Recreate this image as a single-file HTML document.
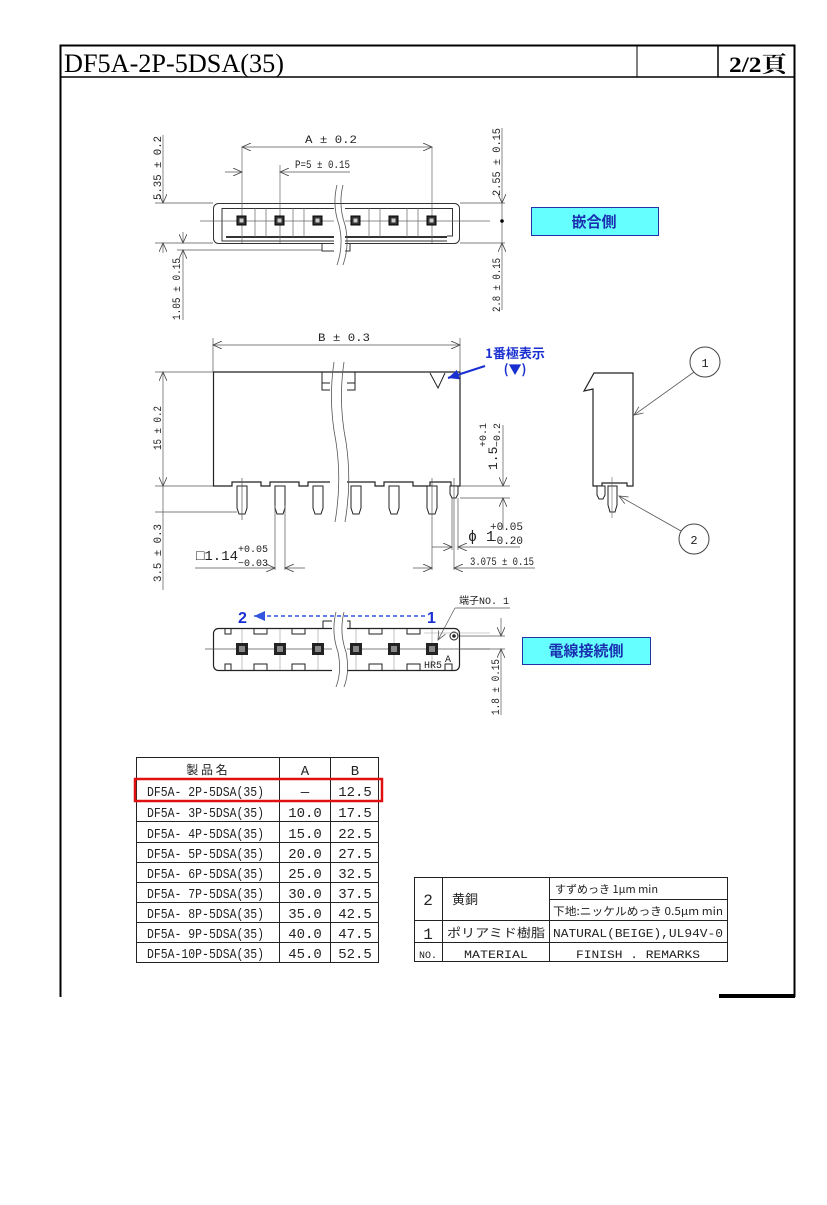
<!DOCTYPE html>
<html><head><meta charset="utf-8"><style>
body{margin:0;background:#fff;}
svg{display:block;}
text{font-family:"Liberation Sans","Noto Sans CJK JP",sans-serif;}
.t text, text.t{font-family:"Liberation Mono","Noto Sans CJK JP",monospace;fill:#222;}
.t text.j, text.j{font-family:"Noto Sans CJK JP",sans-serif;}
text.serif{font-family:"Liberation Serif","Noto Serif CJK SC",serif;}
</style></head><body>
<svg width="827" height="1205" viewBox="0 0 827 1205" xmlns="http://www.w3.org/2000/svg">
<defs>
<marker id="ar" markerWidth="10" markerHeight="8" refX="9" refY="4" orient="auto-start-reverse" markerUnits="userSpaceOnUse"><path d="M0,0 L9,4 L0,8" fill="none" stroke="#444" stroke-width="0.8"/></marker>
<marker id="ba" markerWidth="12" markerHeight="10" refX="11" refY="5" orient="auto" markerUnits="userSpaceOnUse"><path d="M0,0 L11,5 L0,10 Z" fill="#1a2fd0"/></marker>
<marker id="bl" markerWidth="12" markerHeight="10" refX="11" refY="5" orient="auto" markerUnits="userSpaceOnUse"><path d="M0,0 L11,5 L0,10 Z" fill="#3355dd"/></marker>
<marker id="la" markerWidth="10" markerHeight="8" refX="9" refY="4" orient="auto" markerUnits="userSpaceOnUse"><path d="M0,0 L9,4 L0,8" fill="none" stroke="#555" stroke-width="0.8"/></marker>
</defs>
<!-- frame -->
<g stroke="#000" fill="none">
<path d="M60.5,997 V45.5 H794.5 V997" stroke-width="2"/>
<line x1="60" y1="77" x2="795" y2="77" stroke-width="1.5"/>
<line x1="637" y1="45" x2="637" y2="77" stroke-width="1"/>
<line x1="718" y1="45" x2="718" y2="77" stroke-width="1.5"/>
</g>
<rect x="719" y="994" width="76" height="4" fill="#000"/>
<text class="serif" x="64" y="72" font-size="26" textLength="220" lengthAdjust="spacingAndGlyphs">DF5A-2P-5DSA(35)</text>
<text class="serif" x="729" y="72" font-size="22" font-weight="bold" textLength="58" lengthAdjust="spacingAndGlyphs">2/2頁</text>

<!-- TOP VIEW -->
<g stroke="#333" fill="none" stroke-width="1">
<rect x="213.5" y="203.5" width="246" height="40" rx="5"/>
<path d="M222,238 V208.5 H452.5 V236 H447"/>
<path d="M222,238 V241 H447"/>
<line x1="226" y1="237" x2="447" y2="237" stroke-width="2"/>
<path d="M322,243.5 V251 H350 V243.5"/>
<line x1="200" y1="221" x2="490" y2="221" stroke="#666" stroke-width="0.7"/>
<g stroke="#666" stroke-width="0.7">
<line x1="255" y1="208" x2="255" y2="237"/><line x1="266" y1="208" x2="266" y2="237"/>
<line x1="293" y1="208" x2="293" y2="237"/><line x1="304" y1="208" x2="304" y2="237"/>
<line x1="369" y1="208" x2="369" y2="237"/><line x1="380" y1="208" x2="380" y2="237"/>
<line x1="407" y1="208" x2="407" y2="237"/><line x1="418" y1="208" x2="418" y2="237"/>
<line x1="242" y1="147" x2="242" y2="243"/><line x1="280" y1="165" x2="280" y2="243"/>
<line x1="432" y1="147" x2="432" y2="243"/>
</g>
</g>
<rect x="334" y="204" width="11" height="60" fill="#fff"/>
<path d="M337,185 q-5,20 2,40 q5,20 -2,40 M343,185 q-5,20 2,40 q5,20 -2,40" stroke="#555" stroke-width="0.8" fill="none"/>
<g fill="#333" stroke="#000">
<rect x="237" y="216" width="9" height="9"/><rect x="275" y="216" width="9" height="9"/>
<rect x="313" y="216" width="9" height="9"/><rect x="351" y="216" width="9" height="9"/>
<rect x="389" y="216" width="9" height="9"/><rect x="427" y="216" width="9" height="9"/>
</g>
<g fill="#ccc"><rect x="239.5" y="218.5" width="4" height="4"/><rect x="277.5" y="218.5" width="4" height="4"/><rect x="315.5" y="218.5" width="4" height="4"/><rect x="353.5" y="218.5" width="4" height="4"/><rect x="391.5" y="218.5" width="4" height="4"/><rect x="429.5" y="218.5" width="4" height="4"/></g>
<g stroke="#555" stroke-width="0.7" fill="none">
<line x1="242" y1="147" x2="432" y2="147" marker-start="url(#ar)" marker-end="url(#ar)"/>
<line x1="225" y1="172" x2="242" y2="172" marker-end="url(#ar)"/>
<line x1="280" y1="172" x2="350" y2="172" marker-start="url(#ar)"/>
<line x1="155" y1="203" x2="213" y2="203"/><line x1="155" y1="243" x2="213" y2="243"/>
<line x1="163" y1="135" x2="163" y2="203" marker-end="url(#ar)"/>
<line x1="163" y1="243" x2="163" y2="253" marker-start="url(#ar)"/>
<line x1="177" y1="250" x2="322" y2="250"/>
<line x1="183" y1="232" x2="183" y2="243" marker-end="url(#ar)"/>
<line x1="183" y1="250" x2="183" y2="320" marker-start="url(#ar)"/>
<line x1="460" y1="203" x2="505" y2="203"/><line x1="460" y1="243" x2="505" y2="243"/>
<line x1="502" y1="128" x2="502" y2="203" marker-end="url(#ar)"/>
<line x1="502" y1="243" x2="502" y2="310" marker-start="url(#ar)"/>
<line x1="502" y1="203" x2="502" y2="243"/>
</g>
<circle cx="502" cy="221" r="1.8" fill="#000"/>
<g class="t" font-size="11">
<text x="305" y="143" textLength="52" lengthAdjust="spacingAndGlyphs">A ± 0.2</text>
<text x="295" y="168" textLength="55" lengthAdjust="spacingAndGlyphs">P=5 ± 0.15</text>
<text transform="translate(161,200) rotate(-90)" textLength="64" lengthAdjust="spacingAndGlyphs">5.35 ± 0.2</text>
<text transform="translate(180,320) rotate(-90)" textLength="62" lengthAdjust="spacingAndGlyphs">1.05 ± 0.15</text>
<text transform="translate(500,196) rotate(-90)" textLength="68" lengthAdjust="spacingAndGlyphs">2.55 ± 0.15</text>
<text transform="translate(500,312) rotate(-90)" textLength="54" lengthAdjust="spacingAndGlyphs">2.8 ± 0.15</text>
</g>
<rect x="531.5" y="207.5" width="127" height="28" fill="#66ffff" stroke="#2233aa"/>
<text class="j" x="594" y="227" text-anchor="middle" font-size="15" font-weight="bold" fill="#1a2fb0">嵌合側</text>

<!-- FRONT VIEW -->
<g stroke="#222" fill="none" stroke-width="1.2">
<path d="M213.5,372 H460 V486 H451 V482 H430 V486 H413 V482 H384 V486 H375 V482 H346 V486 H337 V482 H308 V486 H299 V482 H270 V486 H261 V482 H232 V486 H213.5 Z"/>
<path d="M322,372 V390 H355 V372" stroke-width="1"/>
<line x1="322" y1="383" x2="355" y2="383" stroke-width="1"/>
<path d="M430,373 L438,388 L445,373" stroke-width="1"/>
</g>
<rect x="330" y="373" width="17" height="125" fill="#fff"/>
<path d="M334,362 q-6,40 2,80 q6,40 -1,80 M344,362 q-6,40 2,80 q6,40 -1,80" stroke="#555" stroke-width="0.8" fill="none"/>
<g stroke="#222" fill="#fff" stroke-width="1">
<path d="M237,486 V508 L239,514 H245 L247,508 V486 Z"/>
<path d="M275,486 V508 L277,514 H283 L285,508 V486 Z"/>
<path d="M313,486 V508 L315,514 H321 L323,508 V486 Z"/>
<path d="M351,486 V508 L353,514 H359 L361,508 V486 Z"/>
<path d="M389,486 V508 L391,514 H397 L399,508 V486 Z"/>
<path d="M427,486 V508 L429,514 H435 L437,508 V486 Z"/>
<path d="M450,486 V494 L452,498 H456 L458,494 V486 Z"/>
</g>
<g stroke="#555" stroke-width="0.7" fill="none">
<line x1="213" y1="338" x2="213" y2="372"/><line x1="460" y1="338" x2="460" y2="372"/>
<line x1="213" y1="345" x2="460" y2="345" marker-start="url(#ar)" marker-end="url(#ar)"/>
<line x1="155" y1="372" x2="213" y2="372"/><line x1="155" y1="486" x2="213" y2="486"/>
<line x1="163" y1="372" x2="163" y2="486" marker-start="url(#ar)" marker-end="url(#ar)"/>
<line x1="163" y1="486" x2="163" y2="590"/>
<line x1="155" y1="512" x2="237" y2="512"/>
<line x1="460" y1="486" x2="510" y2="486"/><line x1="460" y1="498" x2="510" y2="498"/>
<line x1="503" y1="425" x2="503" y2="486" marker-end="url(#ar)"/>
<line x1="503" y1="498" x2="503" y2="530" marker-start="url(#ar)"/>
<line x1="242" y1="478" x2="242" y2="520"/><line x1="432" y1="478" x2="432" y2="570"/>
<line x1="454" y1="478" x2="454" y2="570"/><line x1="452" y1="498" x2="452" y2="550"/><line x1="458" y1="498" x2="458" y2="550"/>
<line x1="275" y1="505" x2="275" y2="570"/><line x1="285" y1="505" x2="285" y2="570"/>
<line x1="195" y1="568" x2="275" y2="568" marker-end="url(#ar)"/>
<line x1="285" y1="568" x2="305" y2="568" marker-start="url(#ar)"/>
<line x1="432" y1="547" x2="452" y2="547" marker-end="url(#ar)"/>
<line x1="458" y1="547" x2="520" y2="547" marker-start="url(#ar)"/>
<line x1="413" y1="568" x2="432" y2="568" marker-end="url(#ar)"/>
<line x1="454" y1="568" x2="535" y2="568" marker-start="url(#ar)"/>
</g>
<g class="t" font-size="11">
<text x="318" y="341" textLength="52" lengthAdjust="spacingAndGlyphs">B ± 0.3</text>
<text transform="translate(161,450) rotate(-90)" textLength="44" lengthAdjust="spacingAndGlyphs">15 ± 0.2</text>
<text transform="translate(161,582) rotate(-90)" textLength="58" lengthAdjust="spacingAndGlyphs">3.5 ± 0.3</text>
<text transform="translate(497,470) rotate(-90)" font-size="13">1.5</text>
<text transform="translate(486,447) rotate(-90)" font-size="10">+0.1</text>
<text transform="translate(500,447) rotate(-90)" font-size="10">−0.2</text>
<text x="468" y="541" font-size="15">ϕ 1</text>
<text x="490" y="530" font-size="11">+0.05</text>
<text x="490" y="544" font-size="11">−0.20</text>
<text x="470" y="565" textLength="64" lengthAdjust="spacingAndGlyphs">3.075 ± 0.15</text>
<text x="196" y="560" font-size="14">□1.14</text>
<text x="238" y="552" font-size="10">+0.05</text>
<text x="238" y="566" font-size="10">−0.03</text>
</g>
<text class="j" x="515" y="358" text-anchor="middle" font-size="13" font-weight="bold" fill="#1a2fd0">1番極表示</text>
<text class="j" x="515" y="374" text-anchor="middle" font-size="13" font-weight="bold" fill="#1a2fd0">(▼)</text>
<line x1="485" y1="366" x2="448" y2="378" stroke="#1a2fd0" stroke-width="2.2" marker-end="url(#ba)"/>

<!-- SIDE VIEW -->
<g stroke="#222" fill="none" stroke-width="1.2">
<path d="M593,486 V389 L584,391 L594,373 H633 V486 H627 V483 H602 V486 Z"/>
</g>
<g stroke="#222" fill="#fff" stroke-width="1">
<path d="M597,486 V495 L599,499 H603 L605,495 V486 Z"/>
<path d="M608,486 V505 L610,512 H615 L617,505 V486 Z"/>
</g>
<line x1="612" y1="477" x2="612" y2="518" stroke="#666" stroke-width="0.6"/>
<circle cx="705" cy="362" r="15" fill="none" stroke="#444"/>
<text x="705" y="367" text-anchor="middle" class="t" font-size="12">1</text>
<circle cx="694" cy="539" r="15" fill="none" stroke="#444"/>
<text x="694" y="544" text-anchor="middle" class="t" font-size="12">2</text>
<line x1="694" y1="372" x2="634" y2="415" stroke="#555" stroke-width="0.8" marker-end="url(#la)"/>
<line x1="681" y1="531" x2="619" y2="496" stroke="#555" stroke-width="0.8" marker-end="url(#la)"/>

<!-- BOTTOM VIEW -->
<g stroke="#222" fill="none" stroke-width="1.2">
<rect x="213.5" y="628.5" width="246" height="42" rx="5"/>
<path d="M323,628 V621 H350 V628" stroke-width="1"/>
</g>
<g stroke="#222" fill="none" stroke-width="1">
<path d="M254,629 V634 H267 V629 M292,629 V634 H305 V629 M369,629 V634 H382 V629 M407,629 V634 H420 V629 M225,629 V634 H231 V629"/>
<path d="M254,670 V664 H267 V670 M292,670 V664 H305 V670 M369,670 V664 H382 V670 M407,670 V664 H420 V670 M225,670 V664 H231 V670 M445,670 V664 H452 V670"/>
</g>
<line x1="205" y1="649" x2="490" y2="649" stroke="#555" stroke-width="0.7"/>
<g stroke="#999" stroke-width="0.6">
<line x1="242" y1="629" x2="242" y2="670"/><line x1="280" y1="629" x2="280" y2="670"/><line x1="318" y1="629" x2="318" y2="670"/>
<line x1="356" y1="629" x2="356" y2="670"/><line x1="394" y1="629" x2="394" y2="670"/><line x1="432" y1="629" x2="432" y2="670"/>
</g>
<rect x="332" y="619" width="15" height="60" fill="#fff"/>
<path d="M336,612 q-5,20 2,40 q4,20 -2,35 M344,612 q-5,20 2,40 q4,20 -2,35" stroke="#555" stroke-width="0.8" fill="none"/>
<g fill="#222">
<rect x="236" y="643" width="12" height="12"/><rect x="274" y="643" width="12" height="12"/><rect x="312" y="643" width="12" height="12"/>
<rect x="350" y="643" width="12" height="12"/><rect x="388" y="643" width="12" height="12"/><rect x="426" y="643" width="12" height="12"/>
</g>
<g fill="#888"><rect x="239" y="646" width="6" height="6"/><rect x="277" y="646" width="6" height="6"/><rect x="315" y="646" width="6" height="6"/><rect x="353" y="646" width="6" height="6"/><rect x="391" y="646" width="6" height="6"/><rect x="429" y="646" width="6" height="6"/></g>
<circle cx="454" cy="636" r="4" fill="none" stroke="#222"/><circle cx="454" cy="636" r="1.8" fill="#222"/>
<text x="445" y="662" class="t" font-size="10">A</text>
<text x="424" y="668" class="t" font-size="10">HR5</text>
<line x1="424" y1="633" x2="490" y2="633" stroke="#999" stroke-width="0.6"/>
<line x1="455" y1="608" x2="438" y2="640" stroke="#555" stroke-width="0.7" marker-end="url(#la)"/>
<line x1="455" y1="608" x2="510" y2="608" stroke="#555" stroke-width="0.7"/>
<text x="459" y="604" class="t" font-size="10">端子NO. 1</text>
<g stroke="#555" stroke-width="0.7" fill="none">
<line x1="460" y1="636" x2="505" y2="636"/><line x1="460" y1="649" x2="505" y2="649"/>
<line x1="501" y1="618" x2="501" y2="636" marker-end="url(#ar)"/>
<line x1="501" y1="649" x2="501" y2="715" marker-start="url(#ar)"/>
</g>
<text transform="translate(499,715) rotate(-90)" class="t" font-size="11" textLength="56" lengthAdjust="spacingAndGlyphs">1.8 ± 0.15</text>
<line x1="425" y1="616" x2="254" y2="616" stroke="#3355dd" stroke-width="1.5" stroke-dasharray="4,3" marker-end="url(#bl)"/>
<text x="238" y="623" font-size="16" font-weight="bold" fill="#1a2fd0">2</text>
<text x="427" y="623" font-size="16" font-weight="bold" fill="#1a2fd0">1</text>
<rect x="522.5" y="637.5" width="128" height="27" fill="#66ffff" stroke="#2233aa"/>
<text class="j" x="586" y="656" text-anchor="middle" font-size="15" font-weight="bold" fill="#1a2fb0">電線接続側</text>

<!-- PRODUCT TABLE -->
<g stroke="#222" stroke-width="1" fill="none">
<rect x="136.5" y="757.5" width="242" height="205"/>
<line x1="279.5" y1="757" x2="279.5" y2="963"/><line x1="330.5" y1="757" x2="330.5" y2="963"/>
<line x1="136" y1="778.5" x2="379" y2="778.5"/>
<line x1="136" y1="800.5" x2="379" y2="800.5"/><line x1="136" y1="821.5" x2="379" y2="821.5"/>
<line x1="136" y1="842.5" x2="379" y2="842.5"/><line x1="136" y1="862.5" x2="379" y2="862.5"/>
<line x1="136" y1="882.5" x2="379" y2="882.5"/><line x1="136" y1="902.5" x2="379" y2="902.5"/>
<line x1="136" y1="922.5" x2="379" y2="922.5"/><line x1="136" y1="942.5" x2="379" y2="942.5"/>
</g>
<rect x="135" y="779" width="247" height="22" fill="none" stroke="#e01010" stroke-width="2.5"/>
<g class="t" font-size="14">
<text class="j" x="207" y="774" text-anchor="middle" font-size="12">製 品 名</text>
<text x="305" y="775" text-anchor="middle">A</text><text x="355" y="775" text-anchor="middle">B</text>
<text x="147" y="796" textLength="117" lengthAdjust="spacingAndGlyphs">DF5A- 2P-5DSA(35)</text><text x="305" y="796" text-anchor="middle">—</text><text x="355" y="796" text-anchor="middle">12.5</text>
<text x="147" y="817" textLength="117" lengthAdjust="spacingAndGlyphs">DF5A- 3P-5DSA(35)</text><text x="305" y="817" text-anchor="middle">10.0</text><text x="355" y="817" text-anchor="middle">17.5</text>
<text x="147" y="838" textLength="117" lengthAdjust="spacingAndGlyphs">DF5A- 4P-5DSA(35)</text><text x="305" y="838" text-anchor="middle">15.0</text><text x="355" y="838" text-anchor="middle">22.5</text>
<text x="147" y="858" textLength="117" lengthAdjust="spacingAndGlyphs">DF5A- 5P-5DSA(35)</text><text x="305" y="858" text-anchor="middle">20.0</text><text x="355" y="858" text-anchor="middle">27.5</text>
<text x="147" y="878" textLength="117" lengthAdjust="spacingAndGlyphs">DF5A- 6P-5DSA(35)</text><text x="305" y="878" text-anchor="middle">25.0</text><text x="355" y="878" text-anchor="middle">32.5</text>
<text x="147" y="898" textLength="117" lengthAdjust="spacingAndGlyphs">DF5A- 7P-5DSA(35)</text><text x="305" y="898" text-anchor="middle">30.0</text><text x="355" y="898" text-anchor="middle">37.5</text>
<text x="147" y="918" textLength="117" lengthAdjust="spacingAndGlyphs">DF5A- 8P-5DSA(35)</text><text x="305" y="918" text-anchor="middle">35.0</text><text x="355" y="918" text-anchor="middle">42.5</text>
<text x="147" y="938" textLength="117" lengthAdjust="spacingAndGlyphs">DF5A- 9P-5DSA(35)</text><text x="305" y="938" text-anchor="middle">40.0</text><text x="355" y="938" text-anchor="middle">47.5</text>
<text x="147" y="958" textLength="117" lengthAdjust="spacingAndGlyphs">DF5A-10P-5DSA(35)</text><text x="305" y="958" text-anchor="middle">45.0</text><text x="355" y="958" text-anchor="middle">52.5</text>
</g>

<!-- MATERIAL TABLE -->
<g stroke="#222" stroke-width="1" fill="none">
<rect x="414.5" y="877.5" width="313" height="84"/>
<line x1="442.5" y1="877" x2="442.5" y2="962"/><line x1="549.5" y1="877" x2="549.5" y2="962"/>
<line x1="549" y1="899.5" x2="728" y2="899.5"/>
<line x1="414" y1="920.5" x2="728" y2="920.5"/><line x1="414" y1="942.5" x2="728" y2="942.5"/>
</g>
<g class="t" font-size="11">
<text x="428" y="905" text-anchor="middle" font-size="16">2</text>
<text class="j" x="452" y="904" font-size="13">黄銅</text>
<text class="j" x="555" y="893">すずめっき  1μm min</text>
<text class="j" x="553" y="915" textLength="170" lengthAdjust="spacingAndGlyphs">下地:ニッケルめっき  0.5μm min</text>
<text x="428" y="939" text-anchor="middle" font-size="16">1</text>
<text class="j" x="447" y="937" font-size="12" textLength="98" lengthAdjust="spacingAndGlyphs">ポリアミド樹脂</text>
<text x="553" y="937" font-size="12" textLength="170" lengthAdjust="spacingAndGlyphs">NATURAL(BEIGE),UL94V-0</text>
<text x="428" y="958" text-anchor="middle" font-size="10">NO.</text>
<text x="496" y="958" text-anchor="middle" font-size="11" textLength="64" lengthAdjust="spacingAndGlyphs">MATERIAL</text>
<text x="638" y="958" text-anchor="middle" font-size="11" textLength="124" lengthAdjust="spacingAndGlyphs">FINISH . REMARKS</text>
</g>
</svg>
</body></html>
